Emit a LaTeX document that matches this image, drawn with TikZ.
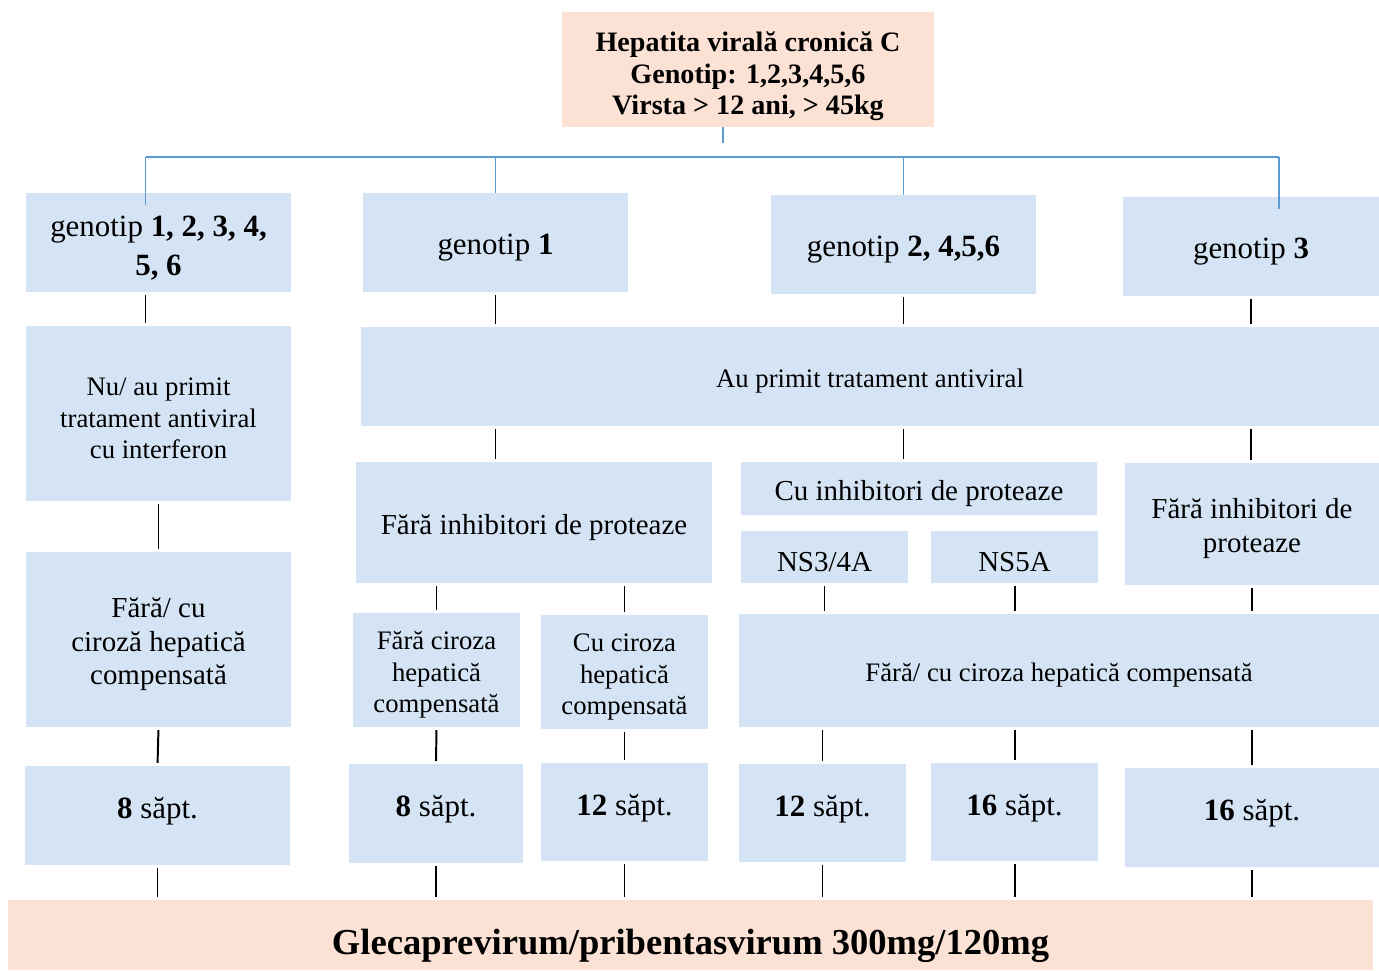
\documentclass[tikz,border=0pt]{standalone}
\usepackage{fontspec}
\setmainfont{Liberation Serif}
\usetikzlibrary{calc}
\definecolor{boxblue}{HTML}{D5E4F5}
\definecolor{peachfill}{HTML}{FBE2D5}
\definecolor{lineblue}{HTML}{5B9BD5}
\newcommand{\dropln}[1]{\rule{0pt}{#1}}
\tikzset{
    box/.style={fill=boxblue, inner sep=0pt, align=center},
    peachbox/.style={fill=peachfill, inner sep=0pt, align=center},
    link/.style={line width=1.4pt, shorten <=2pt, shorten >=2pt},
    tree/.style={line width=1.4pt, color=lineblue},
    drop/.style={execute at begin node={\dropln{#1}}},
    lift/.style={execute at end node={\rule[-#1]{0pt}{#1}}},
    txtS/.style={font=\fontsize{19}{22.4}\selectfont, drop=20pt},
    txtM/.style={font=\fontsize{20.6}{24}\selectfont, drop=21pt},
    txtL/.style={font=\fontsize{22}{27.7}\selectfont, drop=22pt},
    week/.style={font=\fontsize{22}{27.7}\selectfont, lift=10.5pt},
}

\begin{document}
\begin{tikzpicture}[]
                \useasboundingbox (0cm,0cm) rectangle (34.475cm,-24.25cm);

                % top and bottom boxes
                \node[peachbox, minimum width=9.3cm, minimum height=2.875cm, font=\fontsize{20}{22.4}\selectfont\bfseries] (top) at (18.7cm,-1.7375cm) {\dropln{24pt}Hepatita viral\u{a} cronic\u{a} C\\Genotip: 1,2,3,4,5,6\\Virsta > 12 ani, > 45kg};
                \node[peachbox, minimum width=34.125cm, minimum height=1.75cm, font=\fontsize{26}{30}\selectfont\bfseries, drop=33pt] (bot) at (17.2625cm,-23.375cm) {Glecaprevirum/pribentasvirum 300mg/120mg};

                % genotypes
                \node[box, txtL, minimum width=6.625cm, minimum height=2.475cm] (g1) at (3.9625cm,-6.0625cm) {\dropln{22pt}genotip \textbf{1, 2, 3, 4,}\\\textbf{5, 6}};
                \node[box, txtL, minimum width=6.625cm, minimum height=2.475cm] (g2) at (12.3875cm,-6.0625cm) {genotip \textbf{1}};
                \node[box, txtL, minimum width=6.625cm, minimum height=2.475cm] (g3) at (22.5875cm,-6.1125cm) {genotip \textbf{2, 4,5,6}};
                \node[box, txtL, minimum width=6.4cm, minimum height=2.475cm] (g4) at (31.275cm,-6.1625cm) {genotip \textbf{3}};

                % treatment history
                \node[box, txtS, minimum width=6.625cm, minimum height=4.375cm] (naive) at (3.9625cm,-10.3375cm) {\dropln{20pt}Nu/ au primit\\tratament antiviral\\cu interferon};
                \node[box, txtS, minimum width=25.45cm, minimum height=2.475cm] (treated) at (21.75cm,-9.4125cm) {Au primit tratament antiviral};

                \node[box, txtM, minimum width=6.625cm, minimum height=4.375cm] (ciroza) at (3.9625cm,-15.9875cm) {\dropln{21pt}F\u{a}r\u{a}/ cu\\ciroz\u{a} hepatic\u{a}\\compensat\u{a}};
                \node[box, txtM, minimum width=8.9cm, minimum height=3.025cm] (noinh) at (13.35cm,-13.0625cm) {F\u{a}r\u{a} inhibitori de proteaze};
                \node[box, txtM, minimum width=8.9cm, minimum height=1.325cm] (inh) at (22.975cm,-12.2125cm) {Cu inhibitori de proteaze};
                \node[box, txtM, minimum width=4.175cm, minimum height=1.3cm, drop=16pt] (ns3) at (20.6125cm,-13.925cm) {NS3/4A};
                \node[box, txtM, minimum width=4.175cm, minimum height=1.3cm, drop=16pt] (ns5) at (25.3625cm,-13.925cm) {NS5A};
                \node[box, txtM, minimum width=6.35cm, minimum height=3.05cm] (noinhb) at (31.3cm,-13.1cm) {\dropln{21pt}F\u{a}r\u{a} inhibitori de\\proteaze};

                % cirrhosis
                \node[box, txtS, minimum width=4.175cm, minimum height=2.85cm] (farac) at (10.9125cm,-16.75cm) {\dropln{20pt}F\u{a}r\u{a} ciroza\\hepatic\u{a}\\compensat\u{a}};
                \node[box, txtS, minimum width=4.175cm, minimum height=2.85cm] (cuc) at (15.6125cm,-16.8cm) {\dropln{20pt}Cu ciroza\\hepatic\u{a}\\compensat\u{a}};
                \node[box, txtS, minimum width=16cm, minimum height=2.825cm] (both) at (26.475cm,-16.7625cm) {F\u{a}r\u{a}/ cu ciroza hepatic\u{a} compensat\u{a}};

                % weeks
                \node[box, week, minimum width=6.625cm, minimum height=2.475cm] (w1) at (3.9375cm,-20.3875cm) {\textbf{8} s\u{a}pt.};
                \node[box, week, minimum width=4.35cm, minimum height=2.475cm] (w2) at (10.9cm,-20.3375cm) {\textbf{8} s\u{a}pt.};
                \node[box, week, minimum width=4.175cm, minimum height=2.45cm] (w3) at (15.6125cm,-20.3cm) {\textbf{12} s\u{a}pt.};
                \node[box, week, minimum width=4.175cm, minimum height=2.45cm] (w4) at (20.5625cm,-20.325cm) {\textbf{12} s\u{a}pt.};
                \node[box, week, minimum width=4.175cm, minimum height=2.45cm] (w5) at (25.3625cm,-20.3cm) {\textbf{16} s\u{a}pt.};
                \node[box, week, minimum width=6.35cm, minimum height=2.475cm] (w6) at (31.3cm,-20.4375cm) {\textbf{16} s\u{a}pt.};

                % blue tree
                \coordinate (bar) at (0cm,-3.925cm);
                \coordinate (left) at ([xshift=-0.325cm]g1.north);
                \coordinate (right) at ([xshift=0.7cm]g4.north);
                \draw[tree] ([xshift=-0.625cm]top.south) -- ++(0cm,-0.4cm);
                \draw[tree] (left |- bar) -- (right |- bar);
                \draw[tree] (left |- bar) -- ([yshift=-0.3cm]left);
                \draw[tree] (right |- bar) -- ([yshift=-0.3cm]right);
                \foreach \g in {g2,g3}
                    \draw[tree] (\g.north |- bar) -- (\g.north);

                % black links
                \draw[link] ([xshift=-0.325cm]g1.south) -- ([xshift=-0.325cm]naive.north);
                \draw[link] (naive.south) -- (ciroza.north);
                \draw[link] (ciroza.south) -- (w1.north);
                \foreach \g in {g2,g3,g4}
                    \draw[link] (\g.south) -- (\g.south |- treated.north);
                \draw[link] (g2.south |- treated.south) -- (g2.south |- noinh.north);
                \draw[link] (g3.south |- treated.south) -- (g3.south |- inh.north);
                \draw[link] (g4.south |- treated.south) -- (g4.south |- noinhb.north);
                \draw[link] (farac.north |- noinh.south) -- (farac.north);
                \draw[link] (cuc.north |- noinh.south) -- (cuc.north);
                \draw[link] (ns3.south) -- (ns3.south |- both.north);
                \draw[link] (ns5.south) -- (ns5.south |- both.north);
                \draw[link] (noinhb.south) -- (noinhb.south |- both.north);
                \draw[link] (farac.south) -- (w2.north);
                \draw[link] (cuc.south) -- (w3.north);
                \foreach \w in {w4,w5,w6}
                    \draw[link] (\w.north |- both.south) -- (\w.north);
                \foreach \w in {w1,w2,w3,w4,w5,w6}
                    \draw[link] (\w.south) -- (\w.south |- bot.north);

            \end{tikzpicture}
\end{document}
